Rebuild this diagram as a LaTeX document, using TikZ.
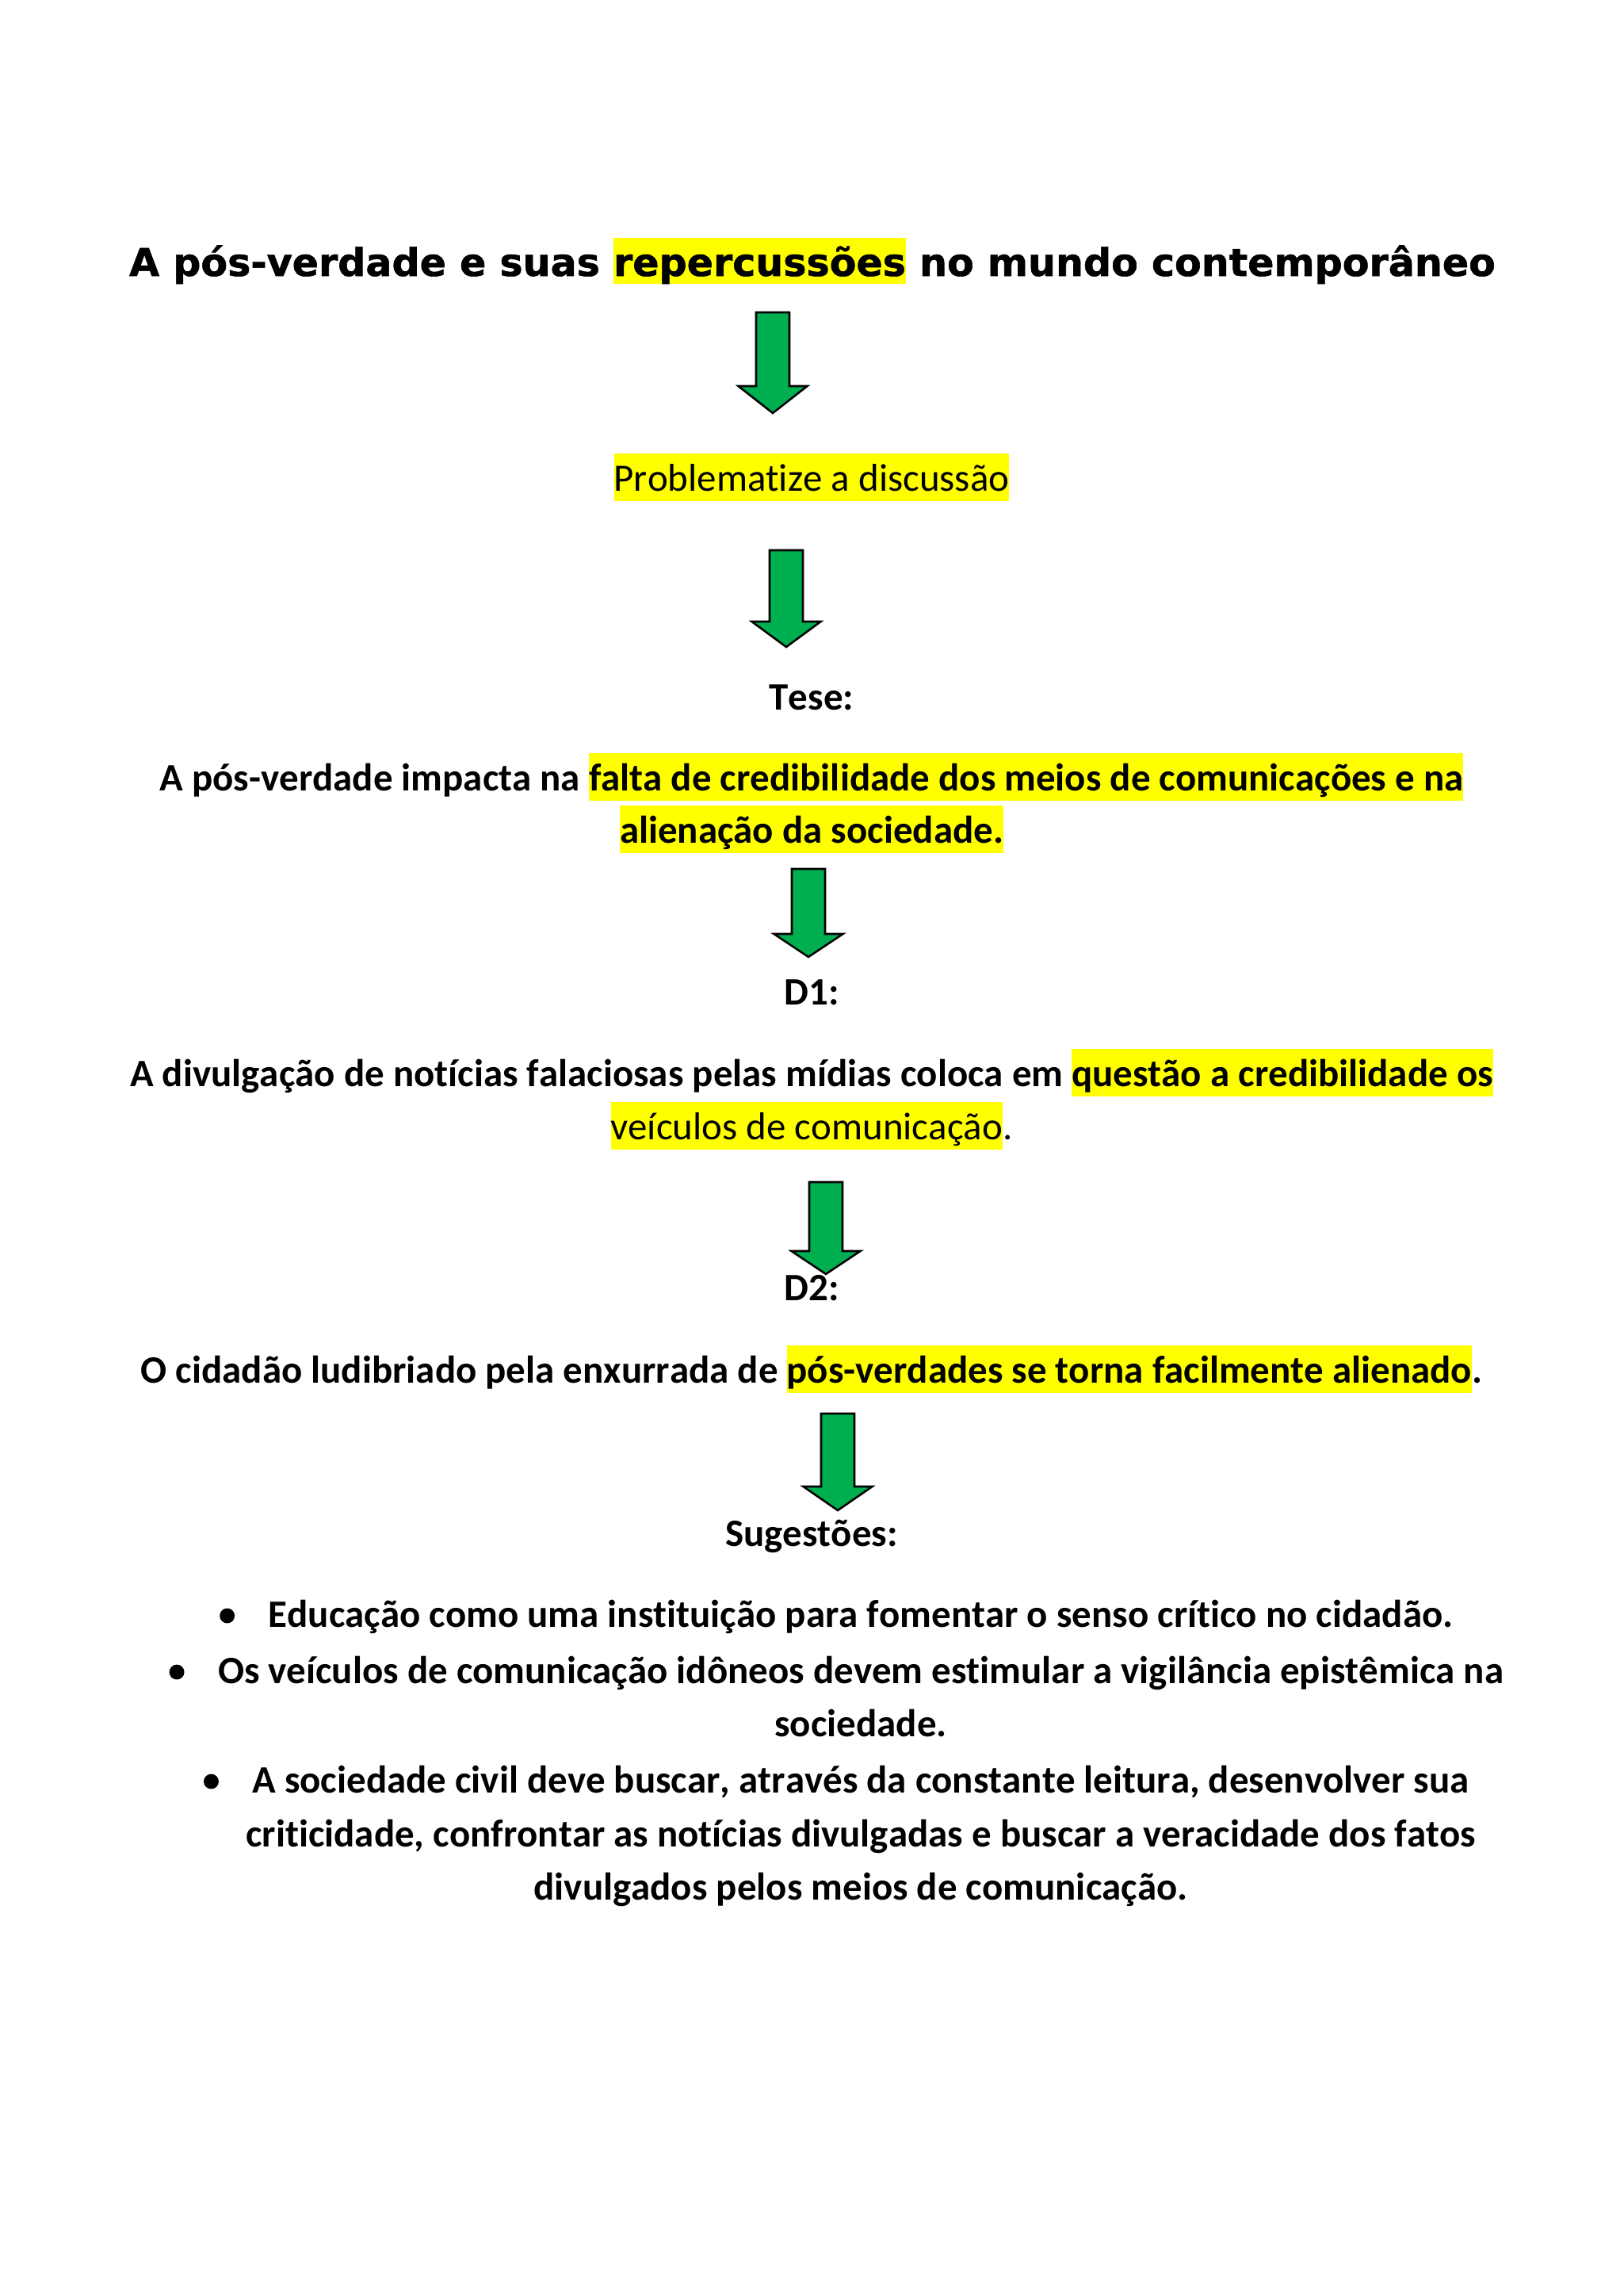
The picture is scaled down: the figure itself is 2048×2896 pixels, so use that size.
\documentclass[tikz,border=0pt]{standalone}
\usepackage{fontspec}
\usepackage{graphicx}
\setmainfont{Carlito}[Ligatures={NoCommon},Kerning=Off]
\newfontfamily\titlefont{DejaVu Sans Bold}[Ligatures={NoCommon},Kerning=Off,FakeBold=1.2]
\usetikzlibrary{calc}
\definecolor{hlyellow}{HTML}{FFFF00}
\definecolor{arrowgreen}{HTML}{00B050}
\newcommand\hlB[1]{{\setlength\fboxsep{0pt}\colorbox{hlyellow}{\rule[-0.269em]{0pt}{1.221em}#1}}}
\newcommand\hlT[1]{{\setlength\fboxsep{0pt}\colorbox{hlyellow}{\rule[-0.21em]{0pt}{1.215em}#1}}}
\newcommand\blockarrow[4]{%
  \path[blockarrow] (#1-21,#2) -- (#1+21,#2) -- (#1+21,#3) -- (#1+43.5,#3)
    -- (#1,#4) -- (#1-43.5,#3) -- (#1-21,#3) -- cycle;}
\begin{document}
\begin{tikzpicture}[x=0.29067pt,y=-0.29067pt,
  txt/.style={anchor=base,inner sep=0pt,outer sep=0pt,font=\fontsize{14.22pt}{17pt}\selectfont},
  btxt/.style={txt,font=\fontsize{14.22pt}{17pt}\selectfont\bfseries},
  bulletdot/.style={circle,fill=black,inner sep=0pt,minimum size=5.5pt},
  blockarrow/.style={fill=arrowgreen,draw=black,line width=0.75pt,line join=miter}]
\fill[white] (0,0) rectangle (2048,2896);
\useasboundingbox (0,0) rectangle (2048,2896);

% title
\node[txt] (title) at (1025,348) {\resizebox{501pt}{\height}{\titlefont\fontsize{14pt}{17pt}\selectfont A pós-verdade e suas \hlT{repercussões} no mundo contemporâneo}};

\blockarrow{975}{394}{487}{521}

\node[txt] (prob) at (1024,619) {\hlB{Problematize a discussão}};

\blockarrow{992}{694}{784}{816}

\node[btxt] (tese) at (1024,895) {Tese:};
\node[btxt] (tl1) at (1024,997) {A pós-verdade impacta na \hlB{falta de credibilidade dos meios de comunicações e na}};
\node[btxt] (tl2) at (1024,1063) {\hlB{alienação da sociedade.}};

\blockarrow{1020}{1096}{1178}{1207}

\node[btxt] (d1) at (1024,1267) {D1:};
\node[btxt] (d1l1) at (1024,1370) {A divulgação de notícias falaciosas pelas mídias coloca em \hlB{questão a credibilidade os}};
\node[txt] (d1l2) at (1024,1437) {\hlB{veículos de comunicação}.};

\blockarrow{1042}{1491}{1578}{1607}

\node[btxt] (d2) at (1024,1640) {D2:};
\node[btxt] (d2l) at (1024,1744) {O cidadão ludibriado pela enxurrada de \hlB{pós-verdades se torna facilmente alienado}.};

\blockarrow{1057}{1783}{1875}{1905}

\node[btxt] (sug) at (1024,1950) {Sugestões:};

\node[btxt] (b1) at (1086,2052) {Educação como uma instituição para fomentar o senso crítico no cidadão.};
\node[btxt] (b2a) at (1086,2123) {Os veículos de comunicação idôneos devem estimular a vigilância epistêmica na};
\node[btxt] (b2b) at (1086,2190) {sociedade.};
\node[btxt] (b3a) at (1086,2261) {A sociedade civil deve buscar, através da constante leitura, desenvolver sua};
\node[btxt] (b3b) at (1086,2329) {criticidade, confrontar as notícias divulgadas e buscar a veracidade dos fatos};
\node[btxt] (b3c) at (1086,2396) {divulgados pelos meios de comunicação.};

\node[bulletdot] (bu1) at ([xshift=-15.1pt,yshift=4.07pt]b1.base west) {};
\node[bulletdot] (bu2) at ([xshift=-15.1pt,yshift=4.07pt]b2a.base west) {};
\node[bulletdot] (bu3) at ([xshift=-15.1pt,yshift=4.07pt]b3a.base west) {};
\end{tikzpicture}
\end{document}
